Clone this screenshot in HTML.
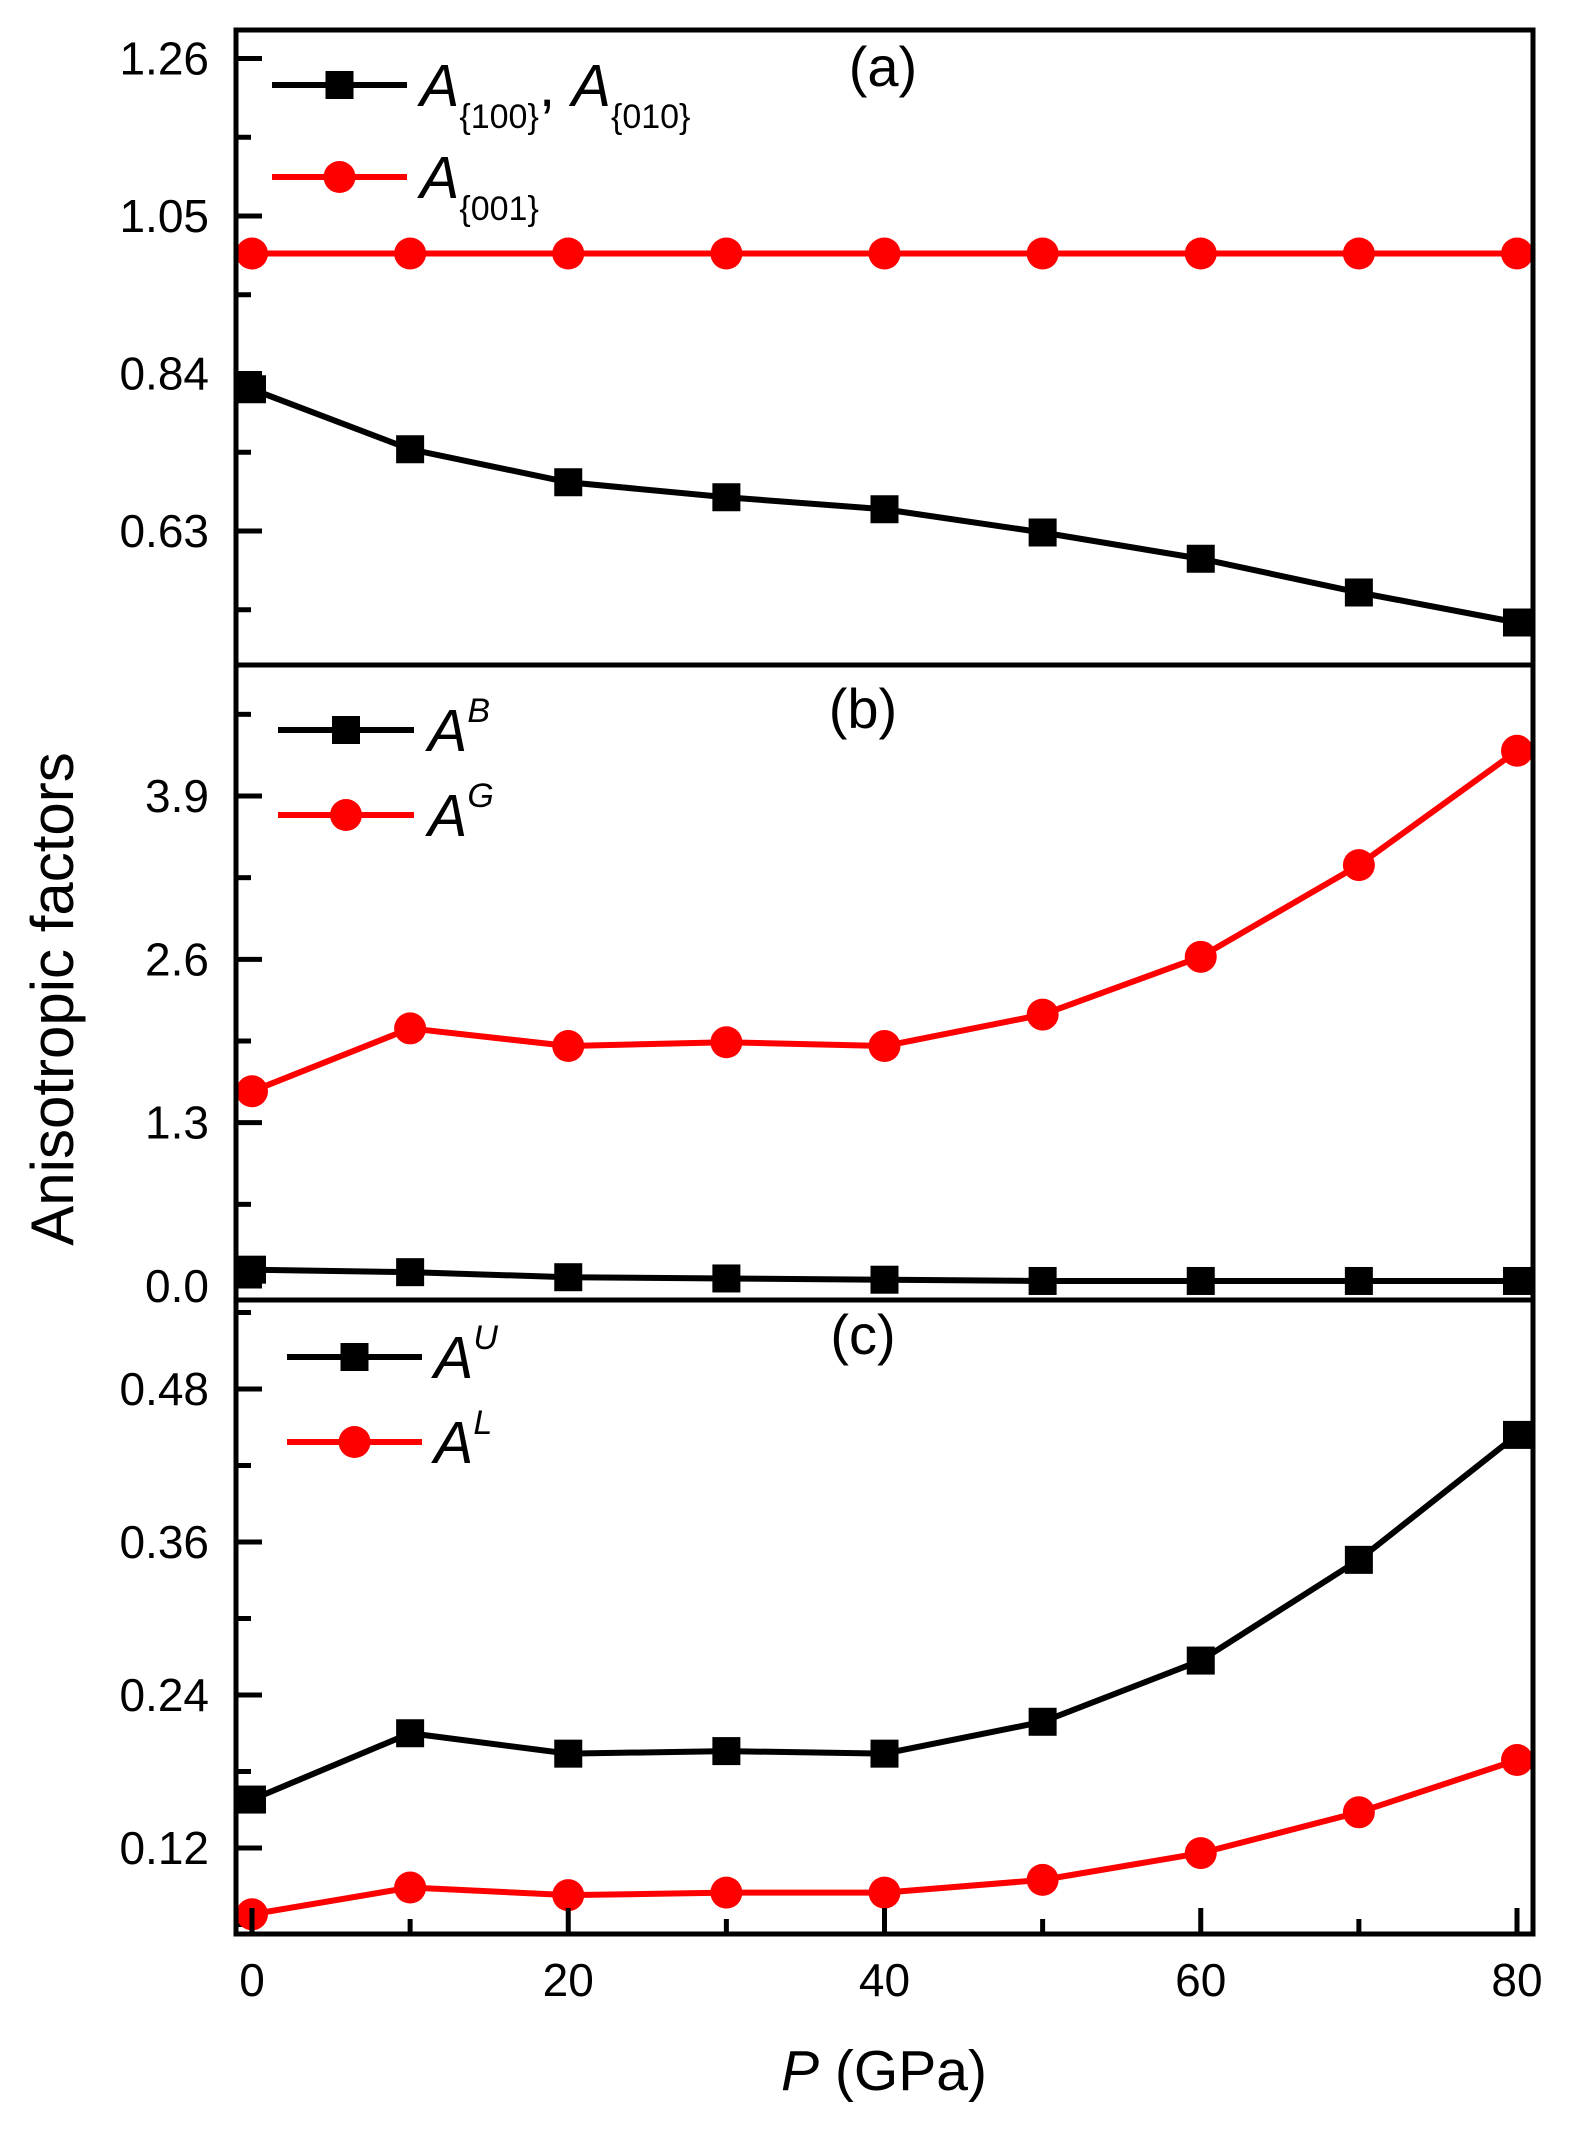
<!DOCTYPE html>
<html><head><meta charset="utf-8"><style>
html,body{margin:0;padding:0;background:#fff;}
svg{display:block;font-family:"Liberation Sans",Arial,sans-serif;}
</style></head>
<body>
<svg id="chart" width="1572" height="2134" viewBox="0 0 1572 2134" xmlns="http://www.w3.org/2000/svg">
<g id="marks"></g>
<text x="57" y="999" font-size="60" text-anchor="middle" dominant-baseline="middle" transform="rotate(-90 57 999)">Anisotropic factors</text>
<text x="884" y="2090" font-size="57" text-anchor="middle"><tspan font-style="italic">P</tspan> (GPa)</text>
<text x="883" y="86" font-size="56" text-anchor="middle">(a)</text>
<text x="863" y="728" font-size="56" text-anchor="middle">(b)</text>
<text x="863" y="1354" font-size="56" text-anchor="middle">(c)</text>
</svg>
<script>
const pressures = [0,10,20,30,40,50,60,70,80];
const a100 = [0.819,0.739,0.695,0.675,0.659,0.628,0.593,0.548,0.508];
const a001 = [1.0,1.0,1.0,1.0,1.0,1.0,1.0,1.0,1.0];
const aB = [0.13,0.11,0.07,0.06,0.05,0.04,0.04,0.04,0.04];
const aG = [1.55,2.05,1.91,1.94,1.91,2.16,2.62,3.35,4.26];
const aU = [0.158,0.210,0.194,0.196,0.194,0.219,0.267,0.346,0.444];
const aL = [0.068,0.089,0.083,0.085,0.085,0.095,0.116,0.148,0.189];
const ticksA = [0.63,0.84,1.05,1.26];
const ticksB = [0.0,1.3,2.6,3.9];
const ticksC = [0.12,0.24,0.36,0.48];
const xTicks = [0,20,40,60,80];

const NS="http://www.w3.org/2000/svg";
const g=document.getElementById('marks');
function el(t,a,p){const e=document.createElementNS(NS,t);for(const k in a)e.setAttribute(k,a[k]);(p||g).appendChild(e);return e;}
const L=236,R=1533;
function xs(v){return 252+(v-0)*(1517-252)/80;}
const panels=[
 {name:'a',top:30,bot:665,v0:1.05,y0:216,v1:0.84,y1:373.5,ticks:ticksA,fmt:2,series:[[a100,'#000','sq','a100'],[a001,'#f00','ci','a001']]},
 {name:'b',top:665,bot:1300,v0:3.9,y0:796,v1:0.0,y1:1286,ticks:ticksB,fmt:1,series:[[aB,'#000','sq','aB'],[aG,'#f00','ci','aG']]},
 {name:'c',top:1300,bot:1934,v0:0.48,y0:1389,v1:0.36,y1:1542,ticks:ticksC,fmt:2,series:[[aU,'#000','sq','aU'],[aL,'#f00','ci','aL']]}
];
function marker(kind,x,y,col){
 if(kind==='sq'){const m=el('rect',{x:x-14,y:y-14,width:28,height:28,fill:col});return m;}
 return el('circle',{cx:x,cy:y,r:16,fill:col});
}
panels.forEach(p=>{
 const ys=v=>p.y0+(v-p.v0)*(p.y1-p.y0)/(p.v1-p.v0);
 const step=p.ticks[1]-p.ticks[0];
 for(let i=-2;i<p.ticks.length*2+2;i++){
  const v=p.ticks[0]+i*step/2, y=ys(v);
  if(y<=p.top+3||y>=p.bot-3)continue;
  const major=i%2===0;
  const t=el('line',{x1:L,x2:L+(major?26:15),y1:y,y2:y,stroke:'#000','stroke-width':5});
  
  
 }
 p.ticks.forEach(v=>{
  const t=el('text',{x:209,y:ys(v)+16,'font-size':46,'text-anchor':'end'});
  t.textContent=v.toFixed(p.fmt);
  
  
 });
 p.series.forEach(([vals,col,kind,nm])=>{
  const pts=pressures.map((x,i)=>xs(x)+','+ys(vals[i])).join(' ');
  const pl=el('polyline',{points:pts,fill:'none',stroke:col,'stroke-width':6});
  
  
  pressures.forEach((x,i)=>{
   const m=marker(kind,xs(x),ys(vals[i]),col);
   
   
  });
 });
});
const fr=el('rect',{x:L,y:30,width:R-L,height:1934-30,fill:'none',stroke:'#000','stroke-width':5});


[665,1300].forEach(y=>{
 const d=el('line',{x1:L,x2:R,y1:y,y2:y,stroke:'#000','stroke-width':5});
 
 
});
for(let v=0;v<=80;v+=10){
 const major=v%20===0;
 const t=el('line',{x1:xs(v),x2:xs(v),y1:1934,y2:1934-(major?26:15),stroke:'#000','stroke-width':5});
 
 
}
xTicks.forEach(v=>{
 const t=el('text',{x:xs(v),y:1996,'font-size':46,'text-anchor':'middle'});
 t.textContent=v;
 
 
});
const legends=[
 {y:85,x1:272,x2:407,col:'#000',kind:'sq',tx:420,label:'a100'},
 {y:177,x1:272,x2:407,col:'#f00',kind:'ci',tx:420,label:'a001'},
 {y:730,x1:278,x2:414,col:'#000',kind:'sq',tx:428,label:'B'},
 {y:815,x1:278,x2:414,col:'#f00',kind:'ci',tx:428,label:'G'},
 {y:1357,x1:287,x2:422,col:'#000',kind:'sq',tx:434,label:'U'},
 {y:1442,x1:287,x2:422,col:'#f00',kind:'ci',tx:434,label:'L'}
];
legends.forEach(l=>{
 const ln=el('line',{x1:l.x1,x2:l.x2,y1:l.y,y2:l.y,stroke:l.col,'stroke-width':6});
 
 
 const m=marker(l.kind,(l.x1+l.x2)/2,l.y,l.col);
 
 
 const t=el('text',{x:l.tx,y:l.y+21,'font-size':59});
 
 
 if(l.label==='a100'){
  t.innerHTML='<tspan font-style="italic">A</tspan><tspan font-size="34" dy="22">{100}</tspan><tspan dy="-22">, </tspan><tspan font-style="italic">A</tspan><tspan font-size="34" dy="22">{010}</tspan>';
 }else if(l.label==='a001'){
  t.innerHTML='<tspan font-style="italic">A</tspan><tspan font-size="34" dy="22">{001}</tspan>';
 }else{
  t.innerHTML='<tspan font-style="italic">A</tspan><tspan font-size="34" font-style="italic" dy="-29">'+l.label+'</tspan>';
 }
});
</script>
</body></html>
